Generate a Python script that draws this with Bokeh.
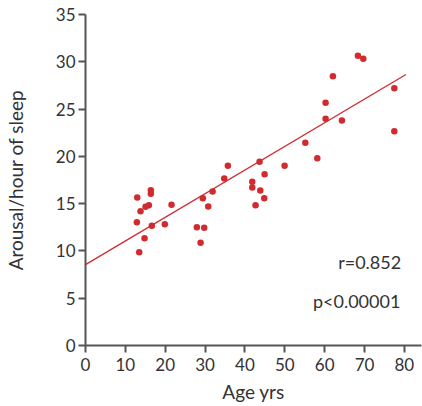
from bokeh.plotting import figure
from bokeh.models import Range1d, FixedTicker, Label
from bokeh.embed import file_html
from bokeh.resources import INLINE

age = [12.98, 12.88, 13.80, 13.48, 14.81, 15.06, 15.89, 16.39, 16.39, 16.64,
       19.90, 21.59, 27.94, 28.87, 29.79, 29.44, 30.80, 31.88, 34.81, 35.72,
       41.84, 41.84, 42.67, 43.85, 44.85, 44.93, 43.67, 49.95, 55.15, 58.16,
       60.24, 60.24, 64.33, 62.07, 68.35, 69.70, 77.48, 77.48]
arousal = [15.65, 13.04, 14.20, 9.86, 11.35, 14.67, 14.84, 16.42, 16.04, 12.66,
           12.83, 14.88, 12.51, 10.86, 12.45, 15.58, 14.70, 16.28, 17.66, 19.00,
           17.31, 16.71, 14.84, 16.39, 15.58, 18.11, 19.42, 19.00, 21.43, 19.81,
           23.97, 25.66, 23.79, 28.48, 30.63, 30.32, 27.21, 22.66]
fit_intercept = 8.55
fit_slope = 0.250
fit_x = [0, 80.4]
x_ticks = [0, 10, 20, 30, 40, 50, 60, 70, 80]
y_ticks = [0, 5, 10, 15, 20, 25, 30, 35]
r_text = "r=0.852"
p_text = "p<0.00001"

FONT = "Lato"
TXT = "#333333"
AX = "#555555"
RED = "#d12b30"

p = figure(width=422, height=406, output_backend="svg", toolbar_location=None,
           x_range=Range1d(0, 84.3), y_range=Range1d(0, 35),
           min_border_left=85, min_border_right=1, min_border_top=14, min_border_bottom=61)
p.outline_line_color = None
p.grid.visible = False
p.background_fill_color = "white"
p.border_fill_color = "white"

fit_y = [fit_intercept + fit_slope * v for v in fit_x]
p.line(fit_x, fit_y, line_color=RED, line_width=1.3)
p.scatter(age, arousal, size=6.5, fill_color=RED, line_color=None)

for ax in (p.xaxis[0], p.yaxis[0]):
    ax.axis_line_color = AX
    ax.axis_line_width = 2
    ax.major_tick_line_color = AX
    ax.major_tick_line_width = 2
    ax.major_tick_out = 7
    ax.major_tick_in = 0
    ax.minor_tick_line_color = None
    ax.major_label_text_font = FONT
    ax.major_label_text_font_size = "17px"
    ax.major_label_text_color = TXT
    ax.axis_label_text_font = FONT
    ax.axis_label_text_font_size = "19px"
    ax.axis_label_text_font_style = "normal"
    ax.axis_label_text_color = TXT

p.xaxis.ticker = FixedTicker(ticks=x_ticks)
p.yaxis.ticker = FixedTicker(ticks=y_ticks)
p.xaxis.axis_label = "Age yrs"
p.yaxis.axis_label = "Arousal/hour of sleep"
p.xaxis.major_label_standoff = 5
p.yaxis.major_label_standoff = 3
p.xaxis.axis_label_standoff = 6
p.yaxis.axis_label_standoff = 26

p.add_layout(Label(x=79.2, y=8.8, text=r_text, text_align="right", text_baseline="middle",
                   text_font=FONT, text_font_size="18px", text_color=TXT))
p.add_layout(Label(x=79.0, y=4.75, text=p_text, text_align="right", text_baseline="middle",
                   text_font=FONT, text_font_size="18px", text_color=TXT))

open("out.html", "w").write(file_html(p, INLINE))
